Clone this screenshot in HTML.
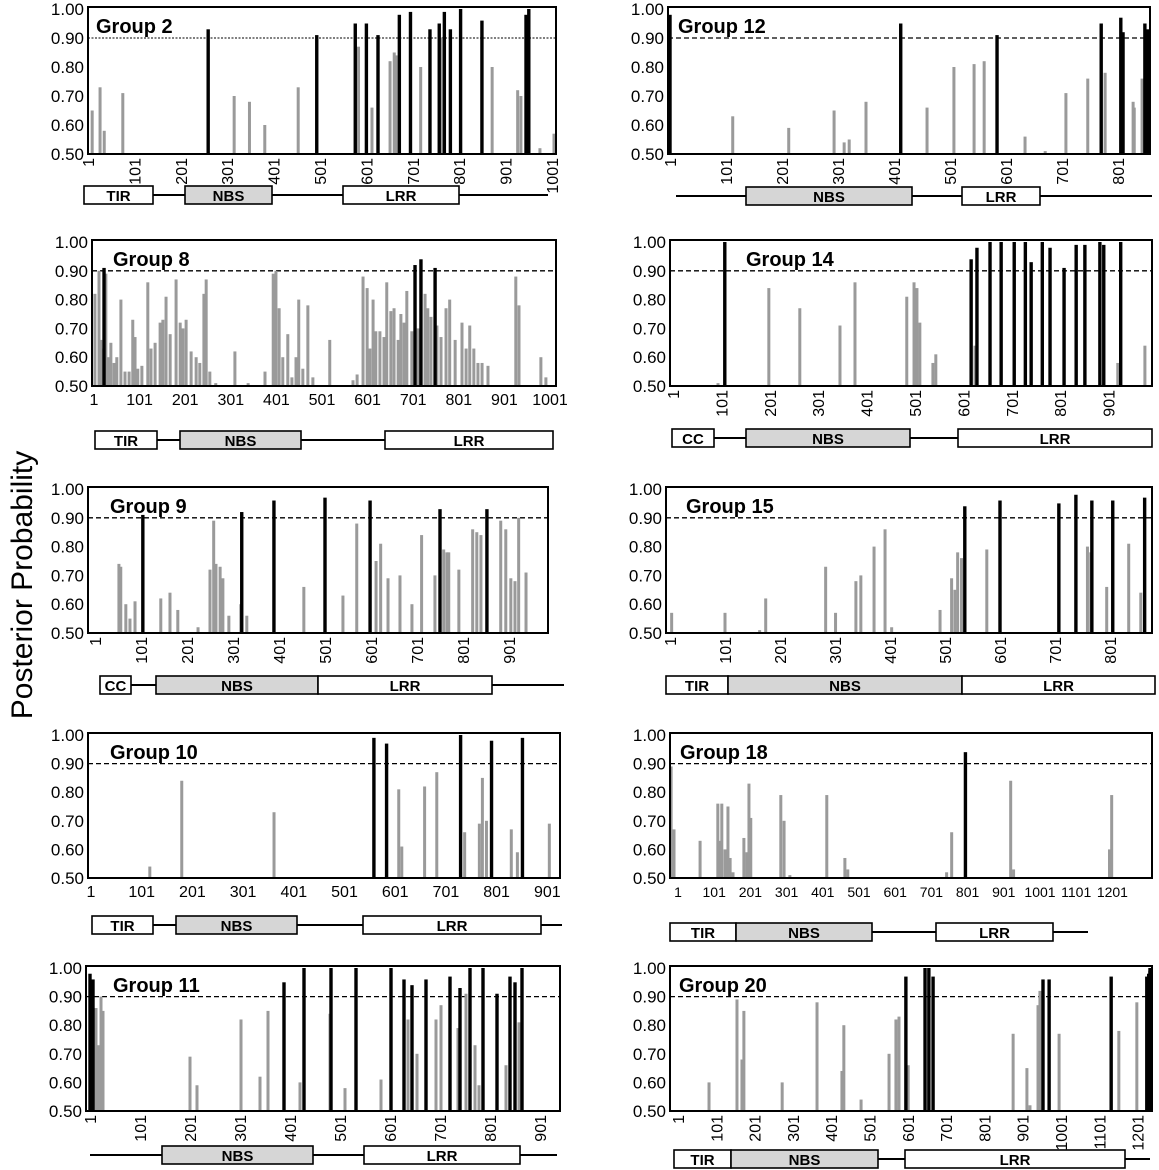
<!DOCTYPE html>
<html><head><meta charset="utf-8"><style>
html,body{margin:0;padding:0;background:#fff}
svg{display:block;font-family:"Liberation Sans",Arial,sans-serif}
</style></head><body>
<svg id="fig" width="1159" height="1170" viewBox="0 0 1159 1170">
<text x="32" y="585" font-size="30" text-anchor="middle" transform="rotate(-90 32 585)">Posterior Probability</text>
</svg>
<script>
// ---- data (residue positions and posterior probabilities) ----
const g2GrayPos=[10,27,36,76,316,349,382,454,584,613,652,661,665,718,762,872,927,934,975,1019];
const g2GrayVal=[.65,.73,.58,.71,.70,.68,.60,.73,.87,.66,.82,.85,.84,.80,.90,.80,.72,.70,.52,.57];
const g2BlackPos=[260,494,577,601,626,672,696,738,758,769,782,804,850,945,951];
const g2BlackVal=[.93,.91,.95,.95,.91,.98,.99,.93,.95,.99,.93,1.0,.96,.98,1.0];

const g8GrayPos=[3,12,16,21,27,32,38,45,51,60,69,78,86,91,97,106,119,126,135,146,152,159,168,181,190,196,203,214,225,233,242,247,255,268,310,339,376,394,400,407,415,426,435,444,450,459,470,481,518,569,578,591,600,606,613,619,628,637,643,652,659,668,674,681,687,698,712,727,733,740,753,762,773,781,793,808,817,825,834,843,852,865,926,933,981,992];
const g8GrayVal=[.82,.90,.66,.63,.89,.60,.65,.58,.60,.80,.55,.55,.73,.67,.56,.57,.86,.63,.65,.72,.73,.81,.68,.87,.72,.70,.73,.62,.60,.58,.82,.87,.55,.51,.62,.51,.55,.89,.90,.77,.60,.68,.53,.60,.80,.56,.78,.53,.66,.52,.54,.88,.84,.63,.80,.69,.69,.67,.86,.76,.77,.66,.75,.72,.83,.69,.70,.82,.77,.74,.71,.67,.77,.80,.66,.72,.63,.71,.63,.58,.58,.57,.88,.78,.60,.53];
const g8BlackPos=[23,705,718,749];
const g8BlackVal=[.91,.92,.94,.91];

const g9GrayPos=[53,57,68,77,88,144,164,181,225,251,259,264,273,279,292,318,331,455,501,540,570,612,622,638,664,690,711,740,759,766,770,792,822,831,840,883,894,905,914,922,938];
const g9GrayVal=[.74,.73,.60,.55,.61,.62,.64,.58,.52,.72,.89,.74,.73,.69,.56,.60,.56,.66,.86,.63,.88,.75,.81,.69,.70,.60,.84,.70,.79,.78,.78,.72,.86,.85,.84,.89,.86,.69,.68,.90,.71];
const g9BlackPos=[105,320,390,501,599,751,853];
const g9BlackVal=[.91,.92,.96,.97,.96,.93,.93];

const g10GrayPos=[117,180,362,608,614,659,683,738,767,773,781,830,842,905];
const g10GrayVal=[.54,.84,.73,.81,.61,.82,.87,.66,.69,.85,.70,.67,.59,.69];
const g10BlackPos=[559,584,730,791,852];
const g10BlackVal=[.99,.97,1.0,.98,.99];

const g11GrayPos=[13,19,23,27,201,215,303,341,357,421,481,511,583,637,645,655,693,703,737,753,771,779,833,859];
const g11GrayVal=[.86,.73,.90,.85,.69,.59,.82,.62,.85,.60,.84,.58,.61,.82,.63,.70,.82,.87,.79,.91,.73,.59,.66,.81];
const g11BlackPos=[1,7,389,429,483,533,603,629,645,673,721,741,761,787,815,841,851,865];
const g11BlackVal=[.98,.96,.95,1.0,1.0,1.0,1.0,.96,.94,.96,.97,.93,1.0,1.0,.91,.97,.95,1.0];

const g12GrayPos=[113,213,294,312,321,351,460,508,544,562,635,671,708,747,778,828,830,844];
const g12GrayVal=[.63,.59,.65,.54,.55,.68,.66,.80,.81,.82,.56,.51,.71,.76,.78,.68,.66,.76];
const g12BlackPos=[1,413,585,771,806,810,849,855];
const g12BlackVal=[.98,.95,.91,.95,.97,.92,.95,.93];

const g14GrayPos=[94,199,263,346,377,484,499,505,511,538,544,625,780,920,976];
const g14GrayVal=[.51,.84,.77,.71,.86,.81,.86,.84,.72,.58,.61,.64,.91,.58,.64];
const g14BlackPos=[108,617,629,656,679,706,729,741,764,780,809,834,852,883,891,926];
const g14BlackVal=[1.0,.94,.98,1.0,1.0,1.0,1.0,.93,1.0,.98,.91,.99,.99,1.0,.99,1.0];

const g15GrayPos=[4,101,164,175,284,302,339,348,372,392,404,492,513,519,524,531,577,760,766,795,835,857];
const g15GrayVal=[.57,.57,.51,.62,.73,.57,.68,.70,.80,.86,.52,.58,.69,.65,.78,.76,.79,.80,.78,.66,.81,.64];
const g15BlackPos=[537,601,708,739,768,806,864];
const g15BlackVal=[.94,.96,.95,.98,.96,.96,.97];

const g18GrayPos=[-18,-10,62,111,117,122,131,139,145,153,183,191,197,202,285,294,310,412,462,470,743,757,920,928,1193,1199];
const g18GrayVal=[.89,.67,.63,.76,.63,.76,.60,.75,.57,.52,.64,.59,.83,.71,.79,.70,.51,.79,.57,.53,.52,.66,.84,.53,.60,.79];
const g18BlackPos=[795];
const g18BlackVal=[.94];

const g20GrayPos=[82,155,168,173,273,364,429,434,479,552,570,578,602,876,912,920,941,946,996,1152,1199];
const g20GrayVal=[.60,.89,.68,.85,.60,.88,.64,.80,.54,.70,.82,.83,.66,.77,.65,.52,.87,.92,.77,.78,.88];
const g20BlackPos=[596,646,656,667,954,970,1132,1225,1230,1234,1238];
const g20BlackVal=[.97,1.0,1.0,.97,.96,.96,.97,.97,.98,.99,1.0];

const yTicks=[0.5,0.6,0.7,0.8,0.9,1.0];
const yTickLabels=["0.50","0.60","0.70","0.80","0.90","1.00"];

// ---- layout ----
const panels=[
 {id:'group-2',title:'Group 2',tx:96,L:88,R:556,T:7,B:154,x1:88,xk:0.464,ticks:[1,101,201,301,401,501,601,701,801,901,1001],rot:true,dotted:true,gp:g2GrayPos,gv:g2GrayVal,bp:g2BlackPos,bv:g2BlackVal,
  dy:195,dline:[153,548],doms:[['TIR',84,153,0],['NBS',185,272,1],['LRR',343,459,0]]},
 {id:'group-8',title:'Group 8',tx:113,L:92,R:556,T:240,B:386,x1:94,xk:0.456,ticks:[1,101,201,301,401,501,601,701,801,901,1001],rot:false,gp:g8GrayPos,gv:g8GrayVal,bp:g8BlackPos,bv:g8BlackVal,
  dy:440,dline:[157,553],doms:[['TIR',95,157,0],['NBS',180,301,1],['LRR',385,553,0]]},
 {id:'group-9',title:'Group 9',tx:110,L:88,R:548,T:487,B:633,x1:95,xk:0.46,ticks:[1,101,201,301,401,501,601,701,801,901],rot:true,gp:g9GrayPos,gv:g9GrayVal,bp:g9BlackPos,bv:g9BlackVal,
  dy:685,dline:[131,564],doms:[['CC',100,131,0],['NBS',156,318,1],['LRR',318,492,0]]},
 {id:'group-10',title:'Group 10',tx:110,L:88,R:560,T:733,B:878,x1:91,xk:0.507,ticks:[1,101,201,301,401,501,601,701,801,901],rot:false,gp:g10GrayPos,gv:g10GrayVal,bp:g10BlackPos,bv:g10BlackVal,
  dy:925,dline:[153,562],doms:[['TIR',92,153,0],['NBS',176,297,1],['LRR',363,541,0]]},
 {id:'group-11',title:'Group 11',tx:113,L:86,R:560,T:966,B:1111,x1:90,xk:0.5,ticks:[1,101,201,301,401,501,601,701,801,901],rot:true,gp:g11GrayPos,gv:g11GrayVal,bp:g11BlackPos,bv:g11BlackVal,
  dy:1155,dline:[90,557],doms:[['NBS',162,313,1],['LRR',364,520,0]]},
 {id:'group-12',title:'Group 12',tx:678,L:668,R:1150,T:7,B:154,x1:670,xk:0.56,ticks:[1,101,201,301,401,501,601,701,801],rot:true,gp:g12GrayPos,gv:g12GrayVal,bp:g12BlackPos,bv:g12BlackVal,
  dy:196,dline:[676,1152],doms:[['NBS',746,912,1],['LRR',962,1040,0]]},
 {id:'group-14',title:'Group 14',tx:746,L:670,R:1152,T:240,B:386,x1:673,xk:0.484,ticks:[1,101,201,301,401,501,601,701,801,901],rot:true,gp:g14GrayPos,gv:g14GrayVal,bp:g14BlackPos,bv:g14BlackVal,
  dy:438,dline:[714,958],doms:[['CC',672,714,0],['NBS',746,910,1],['LRR',958,1152,0]]},
 {id:'group-15',title:'Group 15',tx:686,L:666,R:1152,T:487,B:633,x1:670,xk:0.55,ticks:[1,101,201,301,401,501,601,701,801],rot:true,gp:g15GrayPos,gv:g15GrayVal,bp:g15BlackPos,bv:g15BlackVal,
  dy:685,dline:[666,1155],doms:[['TIR',666,728,0],['NBS',728,962,1],['LRR',962,1155,0]]},
 {id:'group-18',title:'Group 18',tx:680,L:670,R:1152,T:733,B:878,x1:678,xk:0.362,ticks:[1,101,201,301,401,501,601,701,801,901,1001,1101,1201],rot:false,small:true,gp:g18GrayPos,gv:g18GrayVal,bp:g18BlackPos,bv:g18BlackVal,
  dy:932,dline:[736,1088],doms:[['TIR',670,736,0],['NBS',736,872,1],['LRR',936,1053,0]]},
 {id:'group-20',title:'Group 20',tx:679,L:670,R:1152,T:966,B:1111,x1:678,xk:0.383,ticks:[1,101,201,301,401,501,601,701,801,901,1001,1101,1201],rot:true,gp:g20GrayPos,gv:g20GrayVal,bp:g20BlackPos,bv:g20BlackVal,
  dy:1159,dline:[878,1150],doms:[['TIR',674,731,0],['NBS',731,878,1],['LRR',905,1125,0]]}
];

const NS='http://www.w3.org/2000/svg';
const svg=document.getElementById('fig');
function mk(tag,attrs,parent){const e=document.createElementNS(NS,tag);for(const k in attrs)e.setAttribute(k,attrs[k]);(parent||svg).appendChild(e);return e;}

panels.forEach(p=>{
  const g=mk('g',{});
  
  
  const ys=v=>p.B-(v-0.5)/0.5*(p.B-p.T-2);
  const xs=r=>p.x1+(r-1)*p.xk;
  const clip=x=>Math.max(p.L+1,Math.min(p.R-2,x));
  yTicks.forEach((t,i)=>{
    const tx=mk('text',{x:p.L-4,y:ys(t)+6,'font-size':17,'text-anchor':'end'},g);
    tx.textContent=yTickLabels[i];
    
    
  });
  const th=mk('line',{x1:p.L,x2:p.R,y1:ys(0.9),y2:ys(0.9),stroke:'#000','stroke-width':p.dotted?1:1.3,'stroke-dasharray':p.dotted?'2,1.5':'5,3'},g);
  
  
  p.gp.forEach((r,i)=>{
    const x=clip(xs(r));
    const b=mk('rect',{x:x-1.5,y:ys(p.gv[i]),width:3,height:p.B-ys(p.gv[i]),fill:'#9a9a9a'},g);
    
    
  });
  p.bp.forEach((r,i)=>{
    const x=clip(xs(r));
    const b=mk('rect',{x:x-1.7,y:ys(p.bv[i]),width:3.4,height:p.B-ys(p.bv[i]),fill:'#000'},g);
    
    
  });
  const fr=mk('rect',{x:p.L,y:p.T,width:p.R-p.L,height:p.B-p.T,fill:'none',stroke:'#000','stroke-width':2},g);
  
  
  const tt=mk('text',{x:p.tx,y:p.T+26,'font-size':20,'font-weight':'bold'},g);
  tt.textContent=p.title;
  
  
  p.ticks.forEach(t=>{
    const x=xs(t);
    let tx;
    if(p.rot){
      tx=mk('text',{x:x+6,y:p.B+4,'font-size':16,'text-anchor':'end',transform:`rotate(-90 ${x+6} ${p.B+4})`},g);
    }else{
      tx=mk('text',{x:x,y:p.B+19,'font-size':p.small?14:16,'text-anchor':'middle'},g);
    }
    tx.textContent=String(t);
    
    
  });
  const dl=mk('line',{x1:p.dline[0],x2:p.dline[1],y1:p.dy,y2:p.dy,stroke:'#000','stroke-width':2},g);
  
  
  p.doms.forEach(d=>{
    const r=mk('rect',{x:d[1],y:p.dy-9,width:d[2]-d[1],height:18,fill:d[3]?'#d6d6d6':'#fff',stroke:'#000','stroke-width':1.6},g);
    
    
    const tx=mk('text',{x:(d[1]+d[2])/2,y:p.dy+6,'font-size':15,'font-weight':'bold','text-anchor':'middle'},g);
    tx.textContent=d[0];
    
    
  });
});
</script>
</body></html>
